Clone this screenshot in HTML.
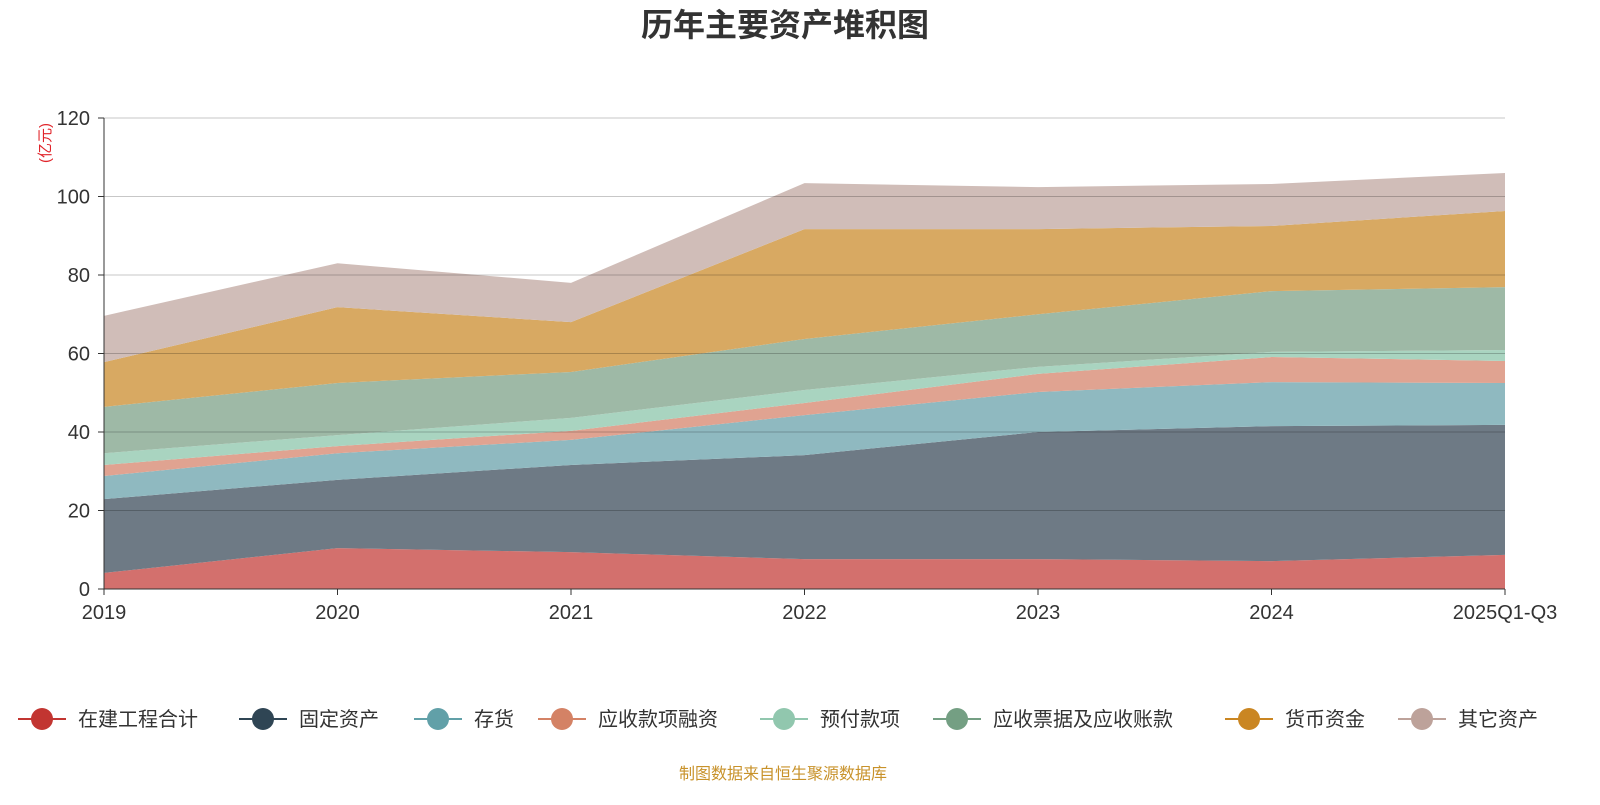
<!DOCTYPE html>
<html><head><meta charset="utf-8">
<style>
html,body{margin:0;padding:0;background:#fff;}
body{width:1600px;height:800px;overflow:hidden;font-family:"Liberation Sans","Noto Sans CJK SC",sans-serif;}
</style></head>
<body>
<svg id="chart" width="1600" height="800" xmlns="http://www.w3.org/2000/svg" font-family="Liberation Sans, Noto Sans CJK SC, sans-serif">
<text x="785" y="36" text-anchor="middle" font-size="32" font-weight="bold" fill="#333">历年主要资产堆积图</text>
<text transform="translate(50,143) rotate(-90)" text-anchor="middle" font-size="15" fill="#e0242a">(亿元)</text>
<g id="areas"></g>
<g id="grid"></g>
<g id="axes"></g>
<g id="legend"></g>
<text x="783" y="779" text-anchor="middle" font-size="16" fill="#c8922a">制图数据来自恒生聚源数据库</text>
</svg>
<script>
const categories = ["2019","2020","2021","2022","2023","2024","2025Q1-Q3"];
const seriesNames = ["在建工程合计","固定资产","存货","应收款项融资","预付款项","应收票据及应收账款","货币资金","其它资产"];
const s0 = [4.1,10.4,9.4,7.6,7.6,7.1,8.7];
const s1 = [18.8,17.4,22.2,26.5,32.4,34.4,33.1];
const s2 = [5.9,6.8,6.4,10.2,10.2,11.2,10.7];
const s3 = [2.8,1.8,2.3,3.1,4.6,6.4,5.6];
const s4 = [3.0,2.8,3.3,3.3,1.8,1.3,2.8];
const s5 = [11.8,13.3,11.7,13.0,13.4,15.5,16.0];
const s6 = [11.4,19.3,12.7,28.0,21.7,16.6,19.4];
const s7 = [11.8,11.2,10.0,11.7,10.7,10.7,9.7];
const yTicks = [0,20,40,60,80,100,120];
const series = [s0,s1,s2,s3,s4,s5,s6,s7];
const fills = ["#d3706d","#6e7a85","#8fb9c0","#e0a391","#a9d4c0","#9eb9a6","#d8a962","#d0bdb8"];
const legendColors = ["#c23531","#2f4554","#61a0a8","#d48265","#91c7ae","#749f83","#ca8622","#bda29a"];
const NS="http://www.w3.org/2000/svg";
const x0=104,x1=1505,yBase=589,yTop=118,yMax=120;
function xs(i){return x0+(x1-x0)*i/(categories.length-1);}
function ys(v){return yBase-(yBase-yTop)*v/yMax;}
function mk(t,a,p){const e=document.createElementNS(NS,t);for(const k in a)e.setAttribute(k,a[k]);p.appendChild(e);return e;}
const areas=document.getElementById('areas');
let lower=categories.map(()=>0);
series.forEach((s,k)=>{
  const upper=lower.map((v,i)=>v+s[i]);
  let pts=upper.map((v,i)=>xs(i)+','+ys(v));
  for(let i=categories.length-1;i>=0;i--)pts.push(xs(i)+','+ys(lower[i]));
  const p=mk('polygon',{points:pts.join(' '),fill:fills[k]},areas);
  
  
  lower=upper;
});
const grid=document.getElementById('grid');
const axes=document.getElementById('axes');
yTicks.forEach(t=>{
  if(t>0){const l=mk('line',{x1:x0,x2:x1,y1:ys(t),y2:ys(t),stroke:'rgba(0,0,0,0.22)','stroke-width':1},grid);
  
  }
  const tk=mk('line',{x1:x0-6,x2:x0,y1:ys(t),y2:ys(t),stroke:'#333'},axes);
  
  
  const tx=mk('text',{x:x0-14,y:ys(t)+7,'text-anchor':'end','font-size':20,fill:'#333'},axes);
  tx.textContent=t;
  
  
});
const ya=mk('line',{x1:x0,x2:x0,y1:yTop,y2:yBase,stroke:'#333'},axes);


const xa=mk('line',{x1:x0,x2:x1,y1:yBase,y2:yBase,stroke:'#333'},axes);


categories.forEach((c,i)=>{
  const tk=mk('line',{x1:xs(i),x2:xs(i),y1:yBase,y2:yBase+6,stroke:'#333'},axes);
  
  
  const tx=mk('text',{x:xs(i),y:619,'text-anchor':'middle','font-size':20,fill:'#333'},axes);
  tx.textContent=c;
  
  
});
const legendX=[42,263,438,562,784,957,1249,1422];
const legend=document.getElementById('legend');
seriesNames.forEach((n,k)=>{
  const g=mk('g',{},legend);
  
  
  const cx=legendX[k];
  mk('line',{x1:cx-24,x2:cx+24,y1:719,y2:719,stroke:legendColors[k],'stroke-width':2},g);
  mk('circle',{cx:cx,cy:719,r:11,fill:legendColors[k]},g);
  const t=mk('text',{x:cx+36,y:726,'font-size':20,fill:'#333'},g);
  t.textContent=n;
});
</script>
</body></html>
